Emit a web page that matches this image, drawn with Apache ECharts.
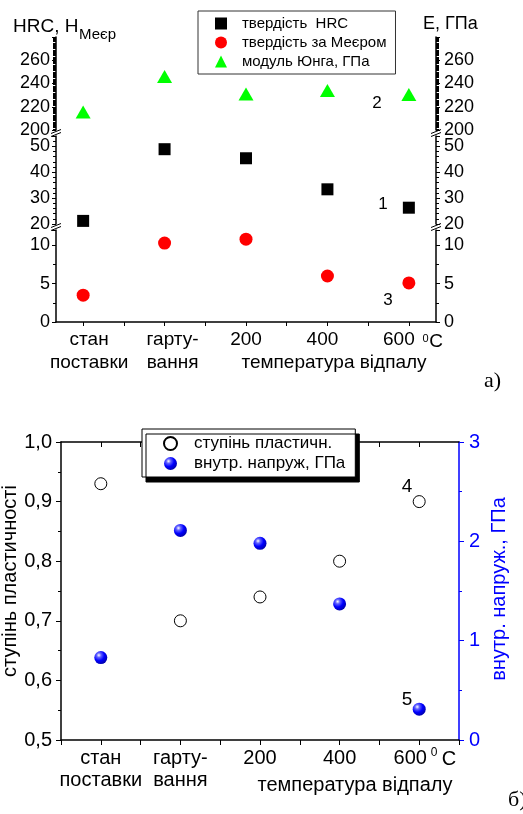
<!DOCTYPE html>
<html>
<head>
<meta charset="utf-8">
<script src="https://cdn.jsdelivr.net/npm/echarts@6/dist/echarts.min.js"></script>
<style>
  html, body { margin: 0; padding: 0; background: #fff; }
  #chart { width: 523px; height: 814px; }
</style>
</head>
<body>
<div id="chart"></div>
<script>
// categories share x positions 0..4 in both panels
const categories = ['стан\nпоставки', 'гарту-\nвання', '200', '400', '600']
const xPositions = [0, 1, 2, 3, 4]

// panel a)
const hrcValues = [21.2, 48.9, 45.4, 33.4, 26.3]
const meyerValues = [3.5, 10.3, 10.8, 6.0, 5.1]
const youngValues = [215.5, 246, 231, 234, 230.5]

// panel б)
const plasticityValues = [0.93, 0.70, 0.74, 0.80, 0.90]
const stressValues = [0.83, 2.11, 1.98, 1.37, 0.31]

const FONT = 'Liberation Sans, Arial, sans-serif'
const SERIF = 'Liberation Serif, Times New Roman, serif'
const BLUE = '#0000ff'

// three stacked pieces of the broken axis in panel a)
const segments = [
  { top: 37, height: 93, min: 200, max: 280, interval: 20, minor: 20 },
  { top: 136, height: 88, min: 20, max: 54, interval: 10, minor: 5 },
  { top: 230, height: 92, min: 0, max: 12, interval: 5, minor: 2 }
]
const topLabelShift = [6, 8, 0, -5, -10]
const bottomLabelShift = [0, 0, 0, 0, -9]

function pairs(values) {
  return xPositions.map((x, i) => [x, values[i]])
}

function richFor(shifts, size, lineHeight) {
  const rich = {}
  shifts.forEach((s, i) => {
    rich['s' + i] = {
      fontSize: size,
      fontFamily: FONT,
      color: '#000',
      lineHeight: lineHeight,
      padding: s >= 0 ? [0, 0, 0, 2 * s] : [0, -2 * s, 0, 0]
    }
  })
  return rich
}

function categoryLabel(value) {
  const i = Math.round(value)
  return categories[i].split('\n').map((line) => '{s' + i + '|' + line + '}').join('\n')
}

function topXAxis(gridIndex, visible) {
  return {
    type: 'value',
    gridIndex,
    min: -1 / 3,
    max: 13 / 3,
    show: visible,
    splitLine: { show: false },
    axisLine: { show: true, onZero: false, lineStyle: { color: '#000', width: 1.5 } },
    axisTick: {
      show: true,
      customValues: [0, 0.5, 1, 1.5, 2, 2.5, 3, 3.5, 4],
      length: 4,
      lineStyle: { color: '#000', width: 1 }
    },
    axisLabel: {
      customValues: xPositions,
      formatter: categoryLabel,
      margin: 6,
      rich: richFor(topLabelShift, 19, 23)
    }
  }
}

function segmentYAxis(seg, gridIndex, position) {
  return {
    type: 'value',
    gridIndex,
    position,
    min: seg.min,
    max: seg.max,
    interval: seg.interval,
    splitLine: { show: false },
    axisLine: { show: true, onZero: false, lineStyle: { color: '#000', width: 1.5 } },
    axisTick: { show: true, length: 4, lineStyle: { color: '#000', width: 1 } },
    minorTick: { show: true, splitNumber: seg.minor, length: 3, lineStyle: { color: '#000', width: 1 } },
    axisLabel: {
      showMaxLabel: false,
      color: '#000',
      fontSize: 18,
      fontFamily: FONT,
      margin: position === 'left' ? 6 : 8
    }
  }
}

const grids = segments.map((seg) => ({
  left: 56,
  width: 380,
  top: seg.top,
  height: seg.height,
  outerBoundsMode: 'none'
}))
grids.push({ left: 61, width: 398, top: 442, height: 298, outerBoundsMode: 'none' })

const xAxes = [
  topXAxis(0, false),
  topXAxis(1, false),
  topXAxis(2, true),
  {
    type: 'value',
    gridIndex: 3,
    min: -0.5,
    max: 4.5,
    splitLine: { show: false },
    axisLine: { show: true, onZero: false, lineStyle: { color: '#000', width: 1.5 } },
    axisTick: {
      show: true,
      customValues: [-0.5, 0, 0.5, 1, 1.5, 2, 2.5, 3, 3.5, 4, 4.5],
      length: 5,
      lineStyle: { color: '#000', width: 1 }
    },
    axisLabel: {
      customValues: xPositions,
      formatter: categoryLabel,
      margin: 7,
      rich: richFor(bottomLabelShift, 20, 22)
    }
  },
  {
    type: 'value',
    gridIndex: 3,
    position: 'top',
    min: -0.5,
    max: 4.5,
    splitLine: { show: false },
    axisLine: { show: true, onZero: false, lineStyle: { color: '#000', width: 1.5 } },
    axisTick: {
      show: true,
      inside: true,
      customValues: [0, 0.5, 1, 1.5, 2, 2.5, 3, 3.5, 4],
      length: 5,
      lineStyle: { color: '#000', width: 1 }
    },
    axisLabel: { show: false }
  }
]

const yAxes = []
segments.forEach((seg, i) => {
  yAxes.push(segmentYAxis(seg, i, 'left'))
  yAxes.push(segmentYAxis(seg, i, 'right'))
})
yAxes.push({
  type: 'value',
  gridIndex: 3,
  position: 'left',
  min: 0.5,
  max: 1.0,
  interval: 0.1,
  splitLine: { show: false },
  axisLine: { show: true, onZero: false, lineStyle: { color: '#000', width: 1.5 } },
  axisTick: { show: true, length: 5, lineStyle: { color: '#000', width: 1 } },
  minorTick: { show: true, splitNumber: 2, length: 3, lineStyle: { color: '#000', width: 1 } },
  axisLabel: {
    color: '#000',
    fontSize: 20,
    fontFamily: FONT,
    margin: 9,
    formatter: (v) => v.toFixed(1).replace('.', ',')
  }
})
yAxes.push({
  type: 'value',
  gridIndex: 3,
  position: 'right',
  min: 0,
  max: 3,
  interval: 1,
  splitLine: { show: false },
  axisLine: { show: true, onZero: false, lineStyle: { color: BLUE, width: 1.5 } },
  axisTick: { show: true, length: 5, lineStyle: { color: BLUE, width: 1 } },
  minorTick: { show: true, splitNumber: 2, length: 3, lineStyle: { color: BLUE, width: 1 } },
  axisLabel: { color: BLUE, fontSize: 20, fontFamily: FONT, margin: 10 }
})

const sphere = {
  type: 'radial',
  x: 0.35,
  y: 0.32,
  r: 0.7,
  colorStops: [
    { offset: 0, color: '#ffffff' },
    { offset: 0.25, color: '#6060ff' },
    { offset: 0.6, color: '#0000ff' },
    { offset: 1, color: '#0000b0' }
  ]
}

// break marks (decoration only), placed at the gaps between segments
const breakMarks = []
for (let i = 0; i < segments.length - 1; i++) {
  const y = (segments[i].top + segments[i].height + segments[i + 1].top) / 2
  ;[56, 436].forEach((x) => {
    ;[-1.5, 1.5].forEach((d) => {
      breakMarks.push({
        type: 'line',
        shape: { x1: x - 5, y1: y + d + 2, x2: x + 5, y2: y + d - 2 },
        style: { stroke: '#000', lineWidth: 1 }
      })
    })
  })
}

function txt(text, x, y, size, opts = {}) {
  return {
    type: 'text',
    x,
    y,
    rotation: opts.rotation || 0,
    style: {
      text,
      fontSize: size,
      fontFamily: opts.family || FONT,
      fill: opts.color || '#000',
      align: opts.align || 'center',
      verticalAlign: 'middle'
    }
  }
}

const chart = echarts.init(document.getElementById('chart'), null, { renderer: 'canvas' })

chart.setOption({
  animation: false,
  backgroundColor: '#fff',
  grid: grids,
  xAxis: xAxes,
  yAxis: yAxes,
  legend: [
    {
      orient: 'vertical',
      left: 198,
      top: 11,
      padding: [5, 9, 5, 17],
      itemWidth: 12,
      itemHeight: 12,
      itemGap: 4,
      borderColor: '#333',
      borderWidth: 1,
      backgroundColor: '#fff',
      selectedMode: false,
      textStyle: { color: '#000', fontSize: 15, fontFamily: FONT, lineHeight: 12, padding: [0, 0, 0, 10] },
      data: ['твердість  HRC', 'твердість за Меєром', 'модуль Юнга, ГПа']
    },
    {
      orient: 'vertical',
      left: 142,
      top: 429,
      padding: [6, 10, 5, 21],
      itemWidth: 13,
      itemHeight: 13,
      itemGap: 3,
      borderColor: '#000',
      borderWidth: 1,
      backgroundColor: '#fff',
      shadowColor: '#000',
      shadowBlur: 0,
      shadowOffsetX: 4,
      shadowOffsetY: 5,
      selectedMode: false,
      textStyle: { color: '#000', fontSize: 17, fontFamily: FONT, lineHeight: 13, padding: [0, 0, 0, 12] },
      data: ['ступінь пластичн.', 'внутр. напруж, ГПа']
    }
  ],
  series: [
    {
      name: 'модуль Юнга, ГПа',
      type: 'scatter',
      xAxisIndex: 0,
      yAxisIndex: 0,
      symbol: 'triangle',
      symbolSize: [15, 13],
      itemStyle: { color: '#00ff00', opacity: 1 },
      data: pairs(youngValues)
    },
    {
      name: 'твердість  HRC',
      type: 'scatter',
      xAxisIndex: 1,
      yAxisIndex: 2,
      symbol: 'rect',
      symbolSize: 12,
      itemStyle: { color: '#000', opacity: 1 },
      data: pairs(hrcValues)
    },
    {
      name: 'твердість за Меєром',
      type: 'scatter',
      xAxisIndex: 2,
      yAxisIndex: 4,
      symbol: 'circle',
      symbolSize: 13,
      itemStyle: { color: '#ff0000', opacity: 1 },
      data: pairs(meyerValues)
    },
    {
      name: 'ступінь пластичн.',
      type: 'scatter',
      xAxisIndex: 3,
      yAxisIndex: 6,
      symbol: 'circle',
      symbolSize: 12,
      itemStyle: { color: '#fff', borderColor: '#000', borderWidth: 1, opacity: 1 },
      data: pairs(plasticityValues)
    },
    {
      name: 'внутр. напруж, ГПа',
      type: 'scatter',
      xAxisIndex: 3,
      yAxisIndex: 7,
      symbol: 'circle',
      symbolSize: 13,
      itemStyle: { color: sphere, opacity: 1 },
      data: pairs(stressValues)
    }
  ],
  graphic: [
    ...breakMarks,
    txt('HRC, H', 13, 27, 19, { align: 'left' }),
    txt('Меєр', 79, 35, 15, { align: 'left' }),
    txt('E, ГПа', 423, 24, 18, { align: 'left' }),
    txt('2', 377, 103, 17),
    txt('1', 383, 204, 17),
    txt('3', 388, 300, 17),
    txt('0', 425.5, 339, 11),
    txt('C', 436, 341.5, 19),
    txt('температура відпалу', 334, 363, 19),
    txt('а)', 484, 381, 22, { align: 'left', family: SERIF }),
    txt('ступінь пластичності', 10, 581, 20, { rotation: Math.PI / 2 }),
    txt('внутр. напруж., ГПа', 499, 589, 20, { rotation: Math.PI / 2, color: BLUE }),
    txt('4', 407, 487, 19),
    txt('5', 407, 700, 19),
    txt('0', 434, 752.5, 12),
    txt('C', 449, 759, 20),
    txt('температура відпалу', 355, 785, 20),
    txt('б)', 508, 800, 22, { align: 'left', family: SERIF })
  ]
})
</script>
</body>
</html>
